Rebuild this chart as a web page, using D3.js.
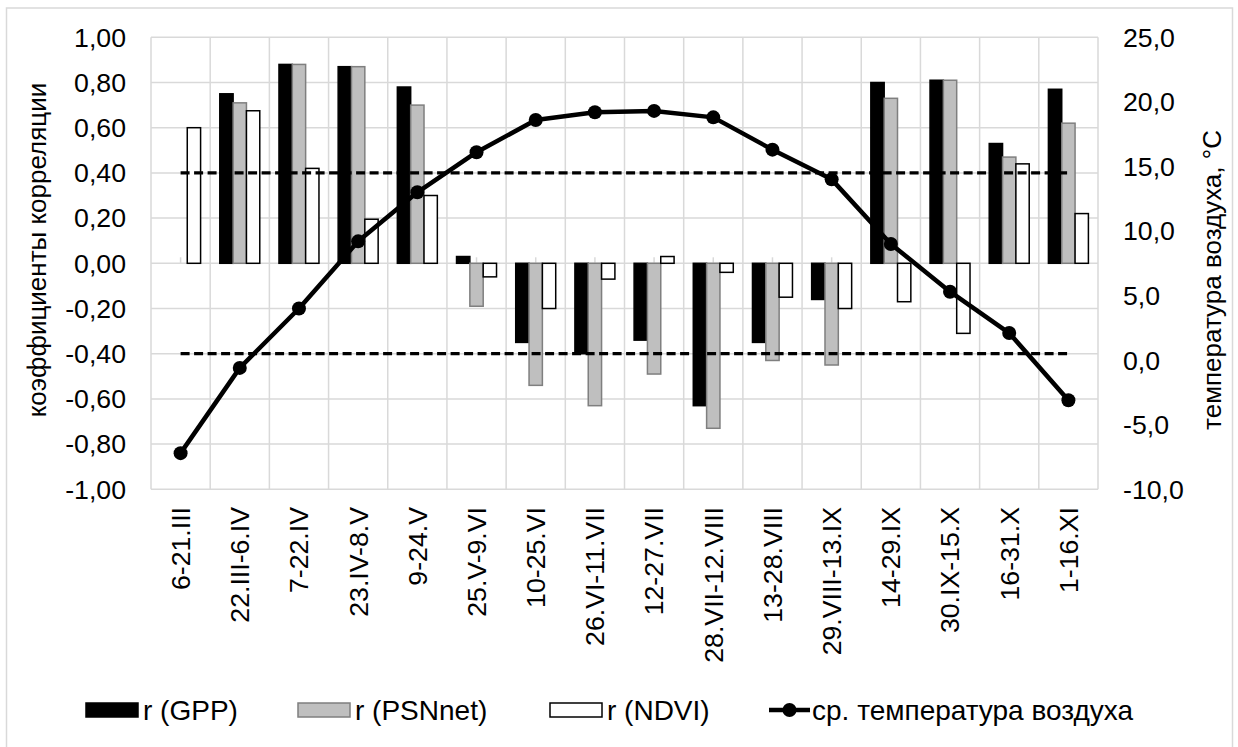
<!DOCTYPE html>
<html>
<head>
<meta charset="utf-8">
<script src="https://cdn.jsdelivr.net/npm/d3@7"></script>
<style>
  html, body { margin: 0; padding: 0; background: #fff; }
  svg { display: block; font-family: "Liberation Sans", Arial, sans-serif; }
</style>
</head>
<body>
<div id="chart"></div>
<script>
// периоды (16-дневные композиты)
const categories = ["6-21.III", "22.III-6.IV", "7-22.IV", "23.IV-8.V", "9-24.V", "25.V-9.VI",
  "10-25.VI", "26.VI-11.VII", "12-27.VII", "28.VII-12.VIII", "13-28.VIII", "29.VIII-13.IX",
  "14-29.IX", "30.IX-15.X", "16-31.X", "1-16.XI"];

// коэффициенты корреляции
const rGPP    = [null, 0.75, 0.88, 0.87, 0.78, 0.03, -0.35, -0.40, -0.34, -0.63, -0.35, -0.16, 0.80, 0.81, 0.53, 0.77];
const rPSNnet = [null, 0.71, 0.88, 0.87, 0.70, -0.19, -0.54, -0.63, -0.49, -0.73, -0.43, -0.45, 0.73, 0.81, 0.47, 0.62];
const rNDVI   = [0.60, 0.675, 0.42, 0.195, 0.30, -0.06, -0.20, -0.07, 0.03, -0.04, -0.15, -0.20, -0.17, -0.31, 0.44, 0.22];

// средняя температура воздуха, °C
const tempAir = [-7.2, -0.6, 4.0, 9.2, 13.0, 16.1, 18.6, 19.2, 19.3, 18.8, 16.3, 14.0, 9.0, 5.3, 2.1, -3.1];

// уровни значимости
const signifLevels = [0.40, -0.40];

const leftTicks  = [-1, -0.8, -0.6, -0.4, -0.2, 0, 0.2, 0.4, 0.6, 0.8, 1];
const rightTicks = [-10, -5, 0, 5, 10, 15, 20, 25];

const seriesNames = ["r (GPP)", "r (PSNnet)", "r (NDVI)"];
const seriesData = [rGPP, rPSNnet, rNDVI];
const seriesStyle = [
  { fill: "#000", stroke: "#000" },
  { fill: "#bfbfbf", stroke: "#7f7f7f" },
  { fill: "#fff", stroke: "#000" }
];

const width = 1238, height = 747;
const plot = { left: 151, right: 1098, top: 37.3, bottom: 489.3 };
const grid = "#d9d9d9";

const svg = d3.select("#chart").append("svg")
  .attr("width", width)
  .attr("height", height);

// рамка диаграммы
svg.append("rect")
  .attr("x", 6.5).attr("y", 8)
  .attr("width", 1226).attr("height", 760)
  .attr("fill", "none")
  .attr("stroke", grid)
  .attr("stroke-width", 1.5);

const x = d3.scaleBand()
  .domain(categories)
  .range([plot.left, plot.right])
  .padding(0);

const xInner = d3.scaleBand()
  .domain(d3.range(3))
  .range([0, x.bandwidth()])
  .paddingInner(0)
  .paddingOuter(0.72);

const yL = d3.scaleLinear().domain([-1, 1]).range([plot.bottom, plot.top]);
const yR = d3.scaleLinear().domain([-10, 25]).range([plot.bottom, plot.top]);

// сетка
const gGrid = svg.append("g").attr("stroke", grid).attr("stroke-width", 1.5);
gGrid.selectAll("line.h")
  .data(leftTicks)
  .enter().append("line")
  .attr("class", "h")
  .attr("x1", plot.left).attr("x2", plot.right)
  .attr("y1", d => yL(d)).attr("y2", d => yL(d));

const bounds = categories.map(c => x(c)).concat([plot.right]);
gGrid.selectAll("line.v")
  .data(bounds)
  .enter().append("line")
  .attr("class", "v")
  .attr("x1", d => d).attr("x2", d => d)
  .attr("y1", plot.top).attr("y2", plot.bottom);

// засечки оси категорий на нуле
gGrid.selectAll("line.t")
  .data(categories)
  .enter().append("line")
  .attr("class", "t")
  .attr("x1", d => x(d) + x.bandwidth() / 2)
  .attr("x2", d => x(d) + x.bandwidth() / 2)
  .attr("y1", yL(0) - 6).attr("y2", yL(0));

// столбцы
seriesData.forEach((values, si) => {
  svg.append("g")
    .selectAll("rect")
    .data(values.map((v, i) => ({ cat: categories[i], v })).filter(d => d.v !== null))
    .enter().append("rect")
    .attr("x", d => x(d.cat) + xInner(si))
    .attr("width", xInner.bandwidth())
    .attr("y", d => Math.min(yL(d.v), yL(0)))
    .attr("height", d => Math.abs(yL(d.v) - yL(0)))
    .attr("fill", seriesStyle[si].fill)
    .attr("stroke", seriesStyle[si].stroke)
    .attr("stroke-width", 1.5);
});

// пунктирные линии уровня значимости
const first = categories[0], last = categories[categories.length - 1];
svg.append("g")
  .selectAll("line")
  .data(signifLevels)
  .enter().append("line")
  .attr("x1", x(first) + x.bandwidth() / 2)
  .attr("x2", x(last) + x.bandwidth() / 2)
  .attr("y1", d => yL(d)).attr("y2", d => yL(d))
  .attr("stroke", "#000")
  .attr("stroke-width", 3.3)
  .attr("stroke-dasharray", "9,4.5");

// температура
const line = d3.line()
  .x((d, i) => x(categories[i]) + x.bandwidth() / 2)
  .y(d => yR(d));

svg.append("path")
  .datum(tempAir)
  .attr("d", line)
  .attr("fill", "none")
  .attr("stroke", "#000")
  .attr("stroke-width", 4.5)
  .attr("stroke-linejoin", "round");

svg.append("g")
  .selectAll("circle")
  .data(tempAir)
  .enter().append("circle")
  .attr("cx", (d, i) => x(categories[i]) + x.bandwidth() / 2)
  .attr("cy", d => yR(d))
  .attr("r", 7)
  .attr("fill", "#000");

// подписи осей
const fmtL = d => d3.format(".2f")(d).replace(".", ",").replace("−", "-");
const fmtR = d => d3.format(".1f")(d).replace(".", ",").replace("−", "-");

svg.append("g")
  .selectAll("text")
  .data(leftTicks)
  .enter().append("text")
  .attr("x", 126)
  .attr("y", d => yL(d))
  .attr("dy", "0.35em")
  .attr("text-anchor", "end")
  .attr("font-size", 26.7)
  .text(fmtL);

svg.append("g")
  .selectAll("text")
  .data(rightTicks)
  .enter().append("text")
  .attr("x", 1123)
  .attr("y", d => yR(d))
  .attr("dy", "0.35em")
  .attr("text-anchor", "start")
  .attr("font-size", 26.7)
  .text(fmtR);

svg.append("g")
  .selectAll("text")
  .data(categories)
  .enter().append("text")
  .attr("transform", d => `translate(${x(d) + x.bandwidth() / 2},507) rotate(-90)`)
  .attr("dy", "0.35em")
  .attr("text-anchor", "end")
  .attr("font-size", 26.7)
  .text(d => d);

svg.append("text")
  .attr("transform", "translate(46,250) rotate(-90)")
  .attr("text-anchor", "middle")
  .attr("font-size", 26)
  .text("коэффициенты корреляции");

svg.append("text")
  .attr("transform", "translate(1221,280) rotate(-90)")
  .attr("text-anchor", "middle")
  .attr("font-size", 26)
  .text("температура воздуха, °С");

// легенда
const legend = svg.append("g").attr("font-size", 28);
const legendX = [86, 298, 550];
seriesNames.forEach((name, i) => {
  legend.append("rect")
    .attr("x", legendX[i]).attr("y", 703)
    .attr("width", 52).attr("height", 14)
    .attr("fill", seriesStyle[i].fill)
    .attr("stroke", seriesStyle[i].stroke)
    .attr("stroke-width", 1.5);
  legend.append("text")
    .attr("x", legendX[i] + 57).attr("y", 710)
    .attr("dy", "0.35em")
    .text(name);
});
legend.append("line")
  .attr("x1", 769).attr("x2", 810)
  .attr("y1", 710).attr("y2", 710)
  .attr("stroke", "#000").attr("stroke-width", 4.5);
legend.append("circle")
  .attr("cx", 789.5).attr("cy", 710).attr("r", 7).attr("fill", "#000");
legend.append("text")
  .attr("x", 812).attr("y", 710)
  .attr("dy", "0.35em")
  .text("ср. температура воздуха");
</script>
</body>
</html>
